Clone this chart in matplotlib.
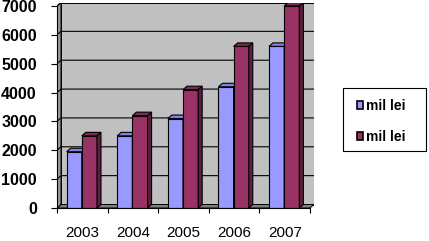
import matplotlib
matplotlib.use('Agg')
import matplotlib.pyplot as plt
from matplotlib.patches import Polygon, Rectangle, Patch

# data
years = ['2003', '2004', '2005', '2006', '2007']
series_blue = [1950, 2500, 3100, 4200, 5600]
series_red = [2500, 3200, 4100, 5600, 7000]
legend_labels = ['mil lei', 'mil lei']
yticks = [0, 1000, 2000, 3000, 4000, 5000, 6000, 7000]

plt.rcParams['font.family'] = ['Liberation Sans', 'DejaVu Sans']

W, H, DPI = 429, 241, 100
fig = plt.figure(figsize=(W / DPI, H / DPI), dpi=DPI)

# layout in pixels
x0_px, y0_px = 57, 208        # front origin
cat_px = 50.6                 # width of one category
ymax = 7000
ypx = 202 / ymax              # pixels per unit
dx_px, dy_px = 4, 3.5         # 3d depth offset

n = len(years)
dx = dx_px / cat_px
dy = dy_px / ypx

ax = fig.add_axes([x0_px / W, (H - y0_px) / H,
                   (n * cat_px + dx_px) / W, (ymax * ypx + dy_px) / H])
ax.set_xlim(0, n + dx)
ax.set_ylim(0, ymax + dy)
ax.patch.set_visible(False)

# walls and floor
ax.add_patch(Polygon([(0, 0), (dx, dy), (dx, ymax + dy), (0, ymax)],
                     closed=True, fc='#9a9a9a', ec='black', lw=0.7, zorder=1))
ax.add_patch(Rectangle((dx, dy), n, ymax, fc='#c0c0c0', ec='black', lw=0.7, zorder=1))
ax.add_patch(Polygon([(0, 0), (n, 0), (n + dx, dy), (dx, dy)],
                     closed=True, fc='#808080', ec='black', lw=0.7, zorder=1))

# gridlines on the walls
for t in yticks[1:]:
    ax.plot([0, dx, n + dx], [t, t + dy, t + dy], color='black', lw=0.8, zorder=2)


def bar3d(x, w, h, face, top, side):
    ax.add_patch(Rectangle((x, 0), w, h, fc=face, ec='black', lw=0.8, zorder=3))
    ax.add_patch(Polygon([(x, h), (x + w, h), (x + w + dx, h + dy), (x + dx, h + dy)],
                         closed=True, fc=top, ec='black', lw=0.8, zorder=3))
    ax.add_patch(Polygon([(x + w, 0), (x + w + dx, dy), (x + w + dx, h + dy), (x + w, h)],
                         closed=True, fc=side, ec='black', lw=0.8, zorder=3))


bw = 0.3
for i in range(n):
    bar3d(i + 0.19, bw, series_blue[i], '#9999ff', '#8080e6', '#6b6bb3')
    bar3d(i + 0.19 + bw, bw, series_red[i], '#993366', '#80294f', '#5c1f3d')

# axes lines and ticks
for s in ['top', 'right']:
    ax.spines[s].set_visible(False)
ax.spines['left'].set_bounds(0, ymax)
ax.spines['bottom'].set_bounds(0, n)
ax.spines['left'].set_zorder(4)
ax.spines['bottom'].set_zorder(4)
ax.set_yticks(yticks)
ax.set_yticklabels([str(t) for t in yticks], fontsize=11.5, fontweight='bold')
ax.set_xticks(range(n + 1))
ax.set_xticklabels([''] * (n + 1))
ax.set_xticks([i + 0.5 for i in range(n)], minor=True)
ax.set_xticklabels(years, minor=True, fontsize=11)
ax.tick_params(axis='x', which='minor', length=0, pad=13)
ax.tick_params(axis='x', which='major', length=3.5, direction='out')
ax.tick_params(axis='y', length=4.5, pad=10)

# legend
fig.patches.append(Rectangle((343 / W, 1 - 151 / H), 83 / W, 63 / H,
                             transform=fig.transFigure, fill=False,
                             ec='black', lw=0.8))
handles = [Patch(fc='#9999ff', ec='black', lw=1.2),
           Patch(fc='#993366', ec='black', lw=1.2)]
fig.legend(handles, legend_labels, loc='upper left',
           bbox_to_anchor=(347 / W, 1 - 89 / H), frameon=False,
           prop={'size': 10, 'weight': 'bold'}, handlelength=0.45,
           handleheight=0.45, handletextpad=0.25, labelspacing=1.25,
           borderpad=0.2)

fig.savefig('out.png', dpi=DPI)
